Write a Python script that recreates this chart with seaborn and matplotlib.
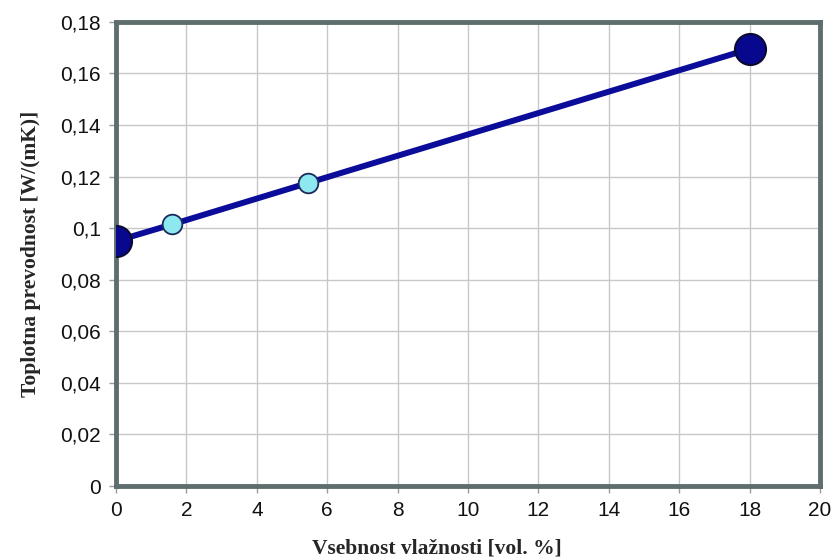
import matplotlib
matplotlib.use("Agg")
import matplotlib.pyplot as plt
from matplotlib.ticker import FuncFormatter, MultipleLocator
import seaborn as sns
import pandas as pd

# Moisture content vs. thermal conductivity
moisture = [0.0, 1.6, 5.45, 18.0]
conductivity = [0.095, 0.1015, 0.1175, 0.1695]
point_kind = ["end", "mid", "mid", "end"]

x_label = "Vsebnost vlažnosti [vol. %]"
y_label = "Toplotna prevodnost [W/(mK)]"

df = pd.DataFrame({"x": moisture, "y": conductivity, "kind": point_kind})

sns.set_style("white")
plt.rcParams["font.family"] = ["Liberation Sans", "DejaVu Sans"]

fig = plt.figure(figsize=(8.35, 5.6), dpi=100)
ax = fig.add_axes([0.139, 0.132, 0.843, 0.829])

sns.lineplot(data=df, x="x", y="y", ax=ax, color="#0c0c9a", linewidth=4.3,
             zorder=3)

ends = df[df["kind"] == "end"]
mids = df[df["kind"] == "mid"]
sns.scatterplot(data=mids, x="x", y="y", ax=ax, s=200, color="#8ee8f0",
                edgecolor="#1a2a5a", linewidth=1.3, zorder=4)
sns.scatterplot(data=ends, x="x", y="y", ax=ax, s=500, color="#08088f",
                edgecolor="#0a0a30", linewidth=1.5, zorder=5, marker="o")

ax.set_xlim(0, 20)
ax.set_ylim(0, 0.18)
ax.xaxis.set_major_locator(MultipleLocator(2))
ax.yaxis.set_major_locator(MultipleLocator(0.02))


def comma_fmt(v, pos):
    s = f"{v:.2f}".rstrip("0").rstrip(".")
    return s.replace(".", ",")


ax.yaxis.set_major_formatter(FuncFormatter(comma_fmt))
ax.xaxis.set_major_formatter(FuncFormatter(lambda v, p: f"{v:.0f}"))

ax.grid(True, color="#c8c8c8", linewidth=1.0)
ax.set_axisbelow(True)
for sp in ax.spines.values():
    sp.set_color("#5e6e6e")
    sp.set_linewidth(3.5)

ax.tick_params(axis="both", which="major", length=5, width=1, color="#9a9a9a",
               labelsize=15, labelcolor="#111111", pad=6, direction="out",
               bottom=True, left=True)

ax.set_xlabel(x_label, family=["Liberation Serif", "DejaVu Serif"],
              fontweight="bold", fontsize=15.5)
ax.set_ylabel(y_label, family=["Liberation Serif", "DejaVu Serif"],
              fontweight="bold", fontsize=15.5, labelpad=14)
ax.xaxis.set_label_coords(0.456, -0.113)

fig.savefig("out.png", dpi=100)
